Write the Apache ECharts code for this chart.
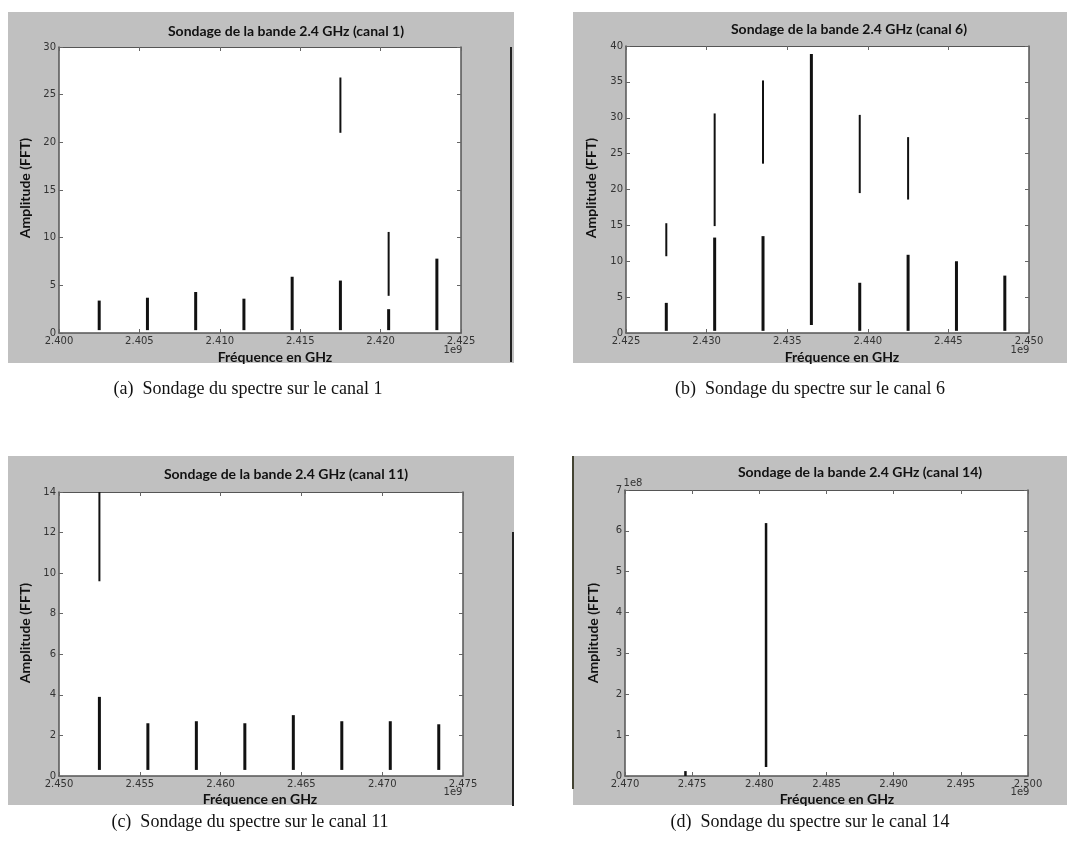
<!DOCTYPE html>
<html>
<head>
<meta charset="utf-8">
<script src="https://cdn.jsdelivr.net/npm/echarts@6/dist/echarts.min.js"></script>
<style>
html,body{margin:0;padding:0;background:#fff;}
#chart{width:1067px;height:859px;}
</style>
</head>
<body>
<div id="chart"></div>
<script>
// ---- Data (frequencies in Hz, amplitudes in FFT units) ----
// Canal 1
const freqs1 = [2.4025e9, 2.4055e9, 2.4085e9, 2.4115e9, 2.4145e9, 2.4175e9, 2.4205e9, 2.4235e9];
const lowMin1 = [0.3, 0.3, 0.3, 0.3, 0.3, 0.3, 0.3, 0.3];
const lowMax1 = [3.4, 3.7, 4.3, 3.6, 5.9, 5.5, 2.5, 7.8];
const upMin1  = [null, null, null, null, null, 21.0, 3.9, null];
const upMax1  = [null, null, null, null, null, 26.8, 10.6, null];
// Canal 6
const freqs6 = [2.4275e9, 2.4305e9, 2.4335e9, 2.4365e9, 2.4395e9, 2.4425e9, 2.4455e9, 2.4485e9];
const lowMin6 = [0.3, 0.3, 0.3, 1.1, 0.3, 0.3, 0.3, 0.3];
const lowMax6 = [4.2, 13.3, 13.5, 38.9, 7.0, 10.9, 10.0, 8.0];
const upMin6  = [10.7, 14.9, 23.6, null, 19.5, 18.6, null, null];
const upMax6  = [15.3, 30.6, 35.2, null, 30.4, 27.3, null, null];
// Canal 11
const freqs11 = [2.4525e9, 2.4555e9, 2.4585e9, 2.4615e9, 2.4645e9, 2.4675e9, 2.4705e9, 2.4735e9];
const lowMin11 = [0.3, 0.3, 0.3, 0.3, 0.3, 0.3, 0.3, 0.3];
const lowMax11 = [3.9, 2.6, 2.7, 2.6, 3.0, 2.7, 2.7, 2.55];
const upMin11  = [9.6, null, null, null, null, null, null, null];
const upMax11  = [14.5, null, null, null, null, null, null, null];
// Canal 14
const freqs14 = [2.4745e9, 2.4805e9];
const lowMin14 = [0.0, 0.22e8];
const lowMax14 = [0.12e8, 6.19e8];
const upMin14  = [null, null];
const upMax14  = [null, null];

// ---- Labels ----
const chartTitles = [
  'Sondage de la bande 2.4 GHz (canal 1)',
  'Sondage de la bande 2.4 GHz (canal 6)',
  'Sondage de la bande 2.4 GHz (canal 11)',
  'Sondage de la bande 2.4 GHz (canal 14)'
];
const captions = [
  '(a)  Sondage du spectre sur le canal 1',
  '(b)  Sondage du spectre sur le canal 6',
  '(c)  Sondage du spectre sur le canal 11',
  '(d)  Sondage du spectre sur le canal 14'
];
const xName = 'Fréquence en GHz';
const yName = 'Amplitude (FFT)';
const xRanges = [[2.400e9, 2.425e9], [2.425e9, 2.450e9], [2.450e9, 2.475e9], [2.470e9, 2.500e9]];
const xStep = 5e6;
const yRanges = [[0, 30, 5], [0, 40, 5], [0, 14, 2], [0, 7e8, 1e8]];

// ---- Layout ----
const grids = [
  {left: 59, top: 47, width: 402, height: 286},
  {left: 626, top: 46, width: 403, height: 287},
  {left: 59, top: 492, width: 404, height: 284},
  {left: 625, top: 490, width: 403, height: 286}
];
const panels = [
  {x: 8, y: 12, w: 506, h: 351},
  {x: 573, y: 12, w: 494, h: 351},
  {x: 8, y: 456, w: 506, h: 349},
  {x: 573, y: 456, w: 494, h: 349}
];
const titlePos = [[286, 31], [849, 29], [286, 474], [860, 472]];
const yNamePos = [[25, 188], [591, 188], [25, 633], [593, 633]];
const xNamePos = [[275, 357], [842, 357], [260, 799], [837, 799]];
const expPos = [[453, 350], [1020, 350], [453, 792], [1020, 792]];
const captionPos = [[248, 389], [810, 389], [250, 822], [810, 822]];

const datasets = [
  [freqs1, lowMin1, lowMax1, upMin1, upMax1],
  [freqs6, lowMin6, lowMax6, upMin6, upMax6],
  [freqs11, lowMin11, lowMax11, upMin11, upMax11],
  [freqs14, lowMin14, lowMax14, upMin14, upMax14]
];

const tickFont = {fontFamily: 'DejaVu Sans', fontSize: 10, color: '#333'};
const lineColor = '#555';
const boldFont = 'bold 14px Lato';

const xAxes = [], yAxes = [], series = [], graphics = [];

function segRenderer(width) {
  return function (params, api) {
    const x = api.value(0);
    const p1 = api.coord([x, api.value(1)]);
    const p2 = api.coord([x, api.value(2)]);
    return {
      type: 'line',
      shape: {x1: p1[0], y1: p1[1], x2: p2[0], y2: p2[1]},
      style: {stroke: '#111', lineWidth: width}
    };
  };
}

for (let i = 0; i < 4; i++) {
  const [xmin, xmax] = xRanges[i];
  const [ymin, ymax, yint] = yRanges[i];
  const yScale = i === 3 ? 1e8 : 1;
  xAxes.push({
    gridIndex: i, type: 'value', min: xmin, max: xmax, interval: xStep, position: 'bottom',
    axisLine: {show: true, onZero: false, lineStyle: {color: lineColor, width: 1.5}},
    axisTick: {show: true, inside: true, length: 4, lineStyle: {color: '#666'}},
    axisLabel: Object.assign({margin: 3, formatter: v => (v / 1e9).toFixed(3)}, tickFont),
    splitLine: {show: false}
  });
  xAxes.push({
    gridIndex: i, type: 'value', min: xmin, max: xmax, interval: xStep, position: 'top',
    axisLine: {show: true, onZero: false, lineStyle: {color: lineColor, width: 1}},
    axisTick: {show: true, inside: true, length: 4, lineStyle: {color: '#666'}},
    axisLabel: {show: false}, splitLine: {show: false}
  });
  yAxes.push({
    gridIndex: i, type: 'value', min: ymin, max: ymax, interval: yint, position: 'left',
    axisLine: {show: true, onZero: false, lineStyle: {color: lineColor, width: 1.5}},
    axisTick: {show: true, inside: true, length: 4, lineStyle: {color: '#666'}},
    axisLabel: Object.assign({margin: 3, formatter: v => String(Math.round(v / yScale))}, tickFont),
    splitLine: {show: false}
  });
  yAxes.push({
    gridIndex: i, type: 'value', min: ymin, max: ymax, interval: yint, position: 'right',
    axisLine: {show: true, onZero: false, lineStyle: {color: lineColor, width: 1.5}},
    axisTick: {show: true, inside: true, length: 4, lineStyle: {color: '#666'}},
    axisLabel: {show: false}, splitLine: {show: false}
  });

  const [f, lmin, lmax, umin, umax] = datasets[i];
  const lowData = [], upData = [];
  for (let k = 0; k < f.length; k++) {
    lowData.push([f[k], lmin[k], lmax[k]]);
    if (umin[k] !== null) upData.push([f[k], umin[k], umax[k]]);
  }
  series.push({
    type: 'custom', xAxisIndex: 2 * i, yAxisIndex: 2 * i, clip: true,
    renderItem: segRenderer(i === 3 ? 2.5 : 3), encode: {x: 0, y: [1, 2]}, data: lowData, z: 5
  });
  series.push({
    type: 'custom', xAxisIndex: 2 * i, yAxisIndex: 2 * i, clip: true,
    renderItem: segRenderer(2), encode: {x: 0, y: [1, 2]}, data: upData, z: 5
  });

  graphics.push({type: 'rect', z: -100, shape: {x: panels[i].x, y: panels[i].y, width: panels[i].w, height: panels[i].h},
    style: {fill: '#c0c0c0'}});
  graphics.push({type: 'text', z: 100, x: titlePos[i][0], y: titlePos[i][1],
    style: {text: chartTitles[i], font: boldFont, fill: '#111', textAlign: 'center', textVerticalAlign: 'middle'}});
  graphics.push({type: 'text', z: 100, x: yNamePos[i][0], y: yNamePos[i][1], rotation: Math.PI / 2,
    style: {text: yName, font: boldFont, fill: '#111', textAlign: 'center', textVerticalAlign: 'middle'}});
  graphics.push({type: 'text', z: 100, x: xNamePos[i][0], y: xNamePos[i][1],
    style: {text: xName, font: boldFont, fill: '#111', textAlign: 'center', textVerticalAlign: 'middle'}});
  graphics.push({type: 'text', z: 100, x: expPos[i][0], y: expPos[i][1],
    style: {text: '1e9', font: '10px "DejaVu Sans"', fill: '#333', textAlign: 'center', textVerticalAlign: 'middle'}});
  graphics.push({type: 'text', z: 100, x: captionPos[i][0], y: captionPos[i][1],
    style: {text: captions[i], font: '18px "Liberation Serif"', fill: '#111', textAlign: 'center', textVerticalAlign: 'middle'}});
}
graphics.push({type: 'text', z: 100, x: 633, y: 483,
  style: {text: '1e8', font: '10px "DejaVu Sans"', fill: '#333', textAlign: 'center', textVerticalAlign: 'middle'}});
graphics.push({type: 'line', z: 50, shape: {x1: 511, y1: 47, x2: 511, y2: 362}, style: {stroke: '#222', lineWidth: 2}});
graphics.push({type: 'line', z: 50, shape: {x1: 513, y1: 532, x2: 513, y2: 806}, style: {stroke: '#222', lineWidth: 2}});
graphics.push({type: 'line', z: 50, shape: {x1: 573, y1: 456, x2: 573, y2: 789}, style: {stroke: '#443', lineWidth: 2}});

const chart = echarts.init(document.getElementById('chart'), null, {renderer: 'canvas'});
chart.setOption({
  animation: false,
  backgroundColor: '#ffffff',
  grid: grids.map(g => Object.assign({show: true, backgroundColor: '#ffffff', borderWidth: 0, containLabel: false}, g)),
  xAxis: xAxes,
  yAxis: yAxes,
  series: series,
  graphic: {elements: graphics}
});
</script>
</body>
</html>
